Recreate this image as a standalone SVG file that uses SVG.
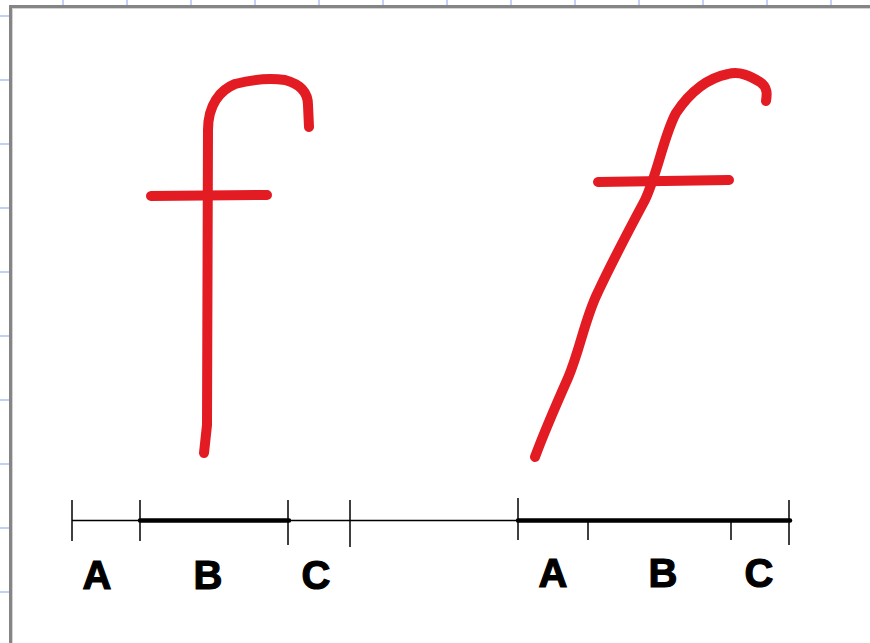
<svg xmlns="http://www.w3.org/2000/svg" width="870" height="643" viewBox="0 0 870 643">
<style>
.grid{stroke:#c2cff6;stroke-width:2}
.red{fill:none;stroke:#e31b23;stroke-width:10;stroke-linecap:round;stroke-linejoin:round}
.thin{stroke:#000;stroke-width:1.5}
.thick{stroke:#000;stroke-width:4.5;stroke-linecap:round}
.lbl{font-family:"Liberation Sans",Arial,sans-serif;font-weight:bold;font-size:40px;fill:#000;stroke:#000;stroke-width:1.2;text-anchor:middle}
</style>
<rect width="870" height="643" fill="#ffffff"/>
<g id="grid">
<g class="grid">
<line x1="63" y1="0" x2="63" y2="6"/><line x1="127" y1="0" x2="127" y2="6"/><line x1="191" y1="0" x2="191" y2="6"/><line x1="255" y1="0" x2="255" y2="6"/><line x1="319" y1="0" x2="319" y2="6"/><line x1="383" y1="0" x2="383" y2="6"/><line x1="447" y1="0" x2="447" y2="6"/><line x1="511" y1="0" x2="511" y2="6"/><line x1="575" y1="0" x2="575" y2="6"/><line x1="639" y1="0" x2="639" y2="6"/><line x1="703" y1="0" x2="703" y2="6"/><line x1="767" y1="0" x2="767" y2="6"/><line x1="831" y1="0" x2="831" y2="6"/>
<line x1="0" y1="16" x2="10" y2="16"/><line x1="0" y1="80" x2="10" y2="80"/><line x1="0" y1="144" x2="10" y2="144"/><line x1="0" y1="208" x2="10" y2="208"/><line x1="0" y1="272" x2="10" y2="272"/><line x1="0" y1="336" x2="10" y2="336"/><line x1="0" y1="400" x2="10" y2="400"/><line x1="0" y1="464" x2="10" y2="464"/><line x1="0" y1="528" x2="10" y2="528"/><line x1="0" y1="592" x2="10" y2="592"/>
</g>
<rect x="9" y="5" width="861" height="3" fill="#858585"/>
<rect x="9" y="5" width="3" height="638" fill="#858585"/>
<rect x="12" y="8" width="858" height="1" fill="#d4d4d4"/>
<rect x="12" y="8" width="1" height="635" fill="#d4d4d4"/>
</g>
<g id="f-upright">
<path class="red" d="M204,453 L207,425 L208,130 C208,105 220,90 235,84 C250,80 270,78 285,80 C300,84 308,92 308,105 L309,127"/>
<path class="red" d="M151,196 L267,195"/>
</g>
<g id="f-slanted">
<path class="red" d="M535,457 C545,430 556,405 568,378 C580,350 585,318 598,292 C612,262 630,228 645,200 C658,172 664,135 676,113 C690,92 708,78 728,74 C740,71 750,76 760,82 C768,87 767,95 766,101"/>
<path class="red" d="M598,182 L729,180"/>
</g>
<g id="number-line">
<line class="thin" x1="72" y1="520.5" x2="790" y2="520.5"/>
<line class="thick" x1="140" y1="520.5" x2="289" y2="520.5"/>
<line class="thick" x1="518" y1="520.5" x2="790" y2="520.5"/>
<line class="thin" x1="72" y1="500" x2="72" y2="541"/>
<line class="thin" x1="140" y1="500" x2="140" y2="541"/>
<line class="thin" x1="288" y1="500" x2="288" y2="545"/>
<line class="thin" x1="350" y1="500" x2="350" y2="547"/>
<line class="thin" x1="518" y1="498" x2="518" y2="540"/>
<line class="thin" x1="588" y1="520" x2="588" y2="540"/>
<line class="thin" x1="731" y1="520" x2="731" y2="540"/>
<line class="thin" x1="789" y1="500" x2="789" y2="545"/>
</g>
<g id="labels">
<text class="lbl" x="97" y="589">A</text>
<text class="lbl" x="208" y="589">B</text>
<text class="lbl" x="316" y="589">C</text>
<text class="lbl" x="553" y="587">A</text>
<text class="lbl" x="663" y="587">B</text>
<text class="lbl" x="759" y="587">C</text>
</g>
</svg>
